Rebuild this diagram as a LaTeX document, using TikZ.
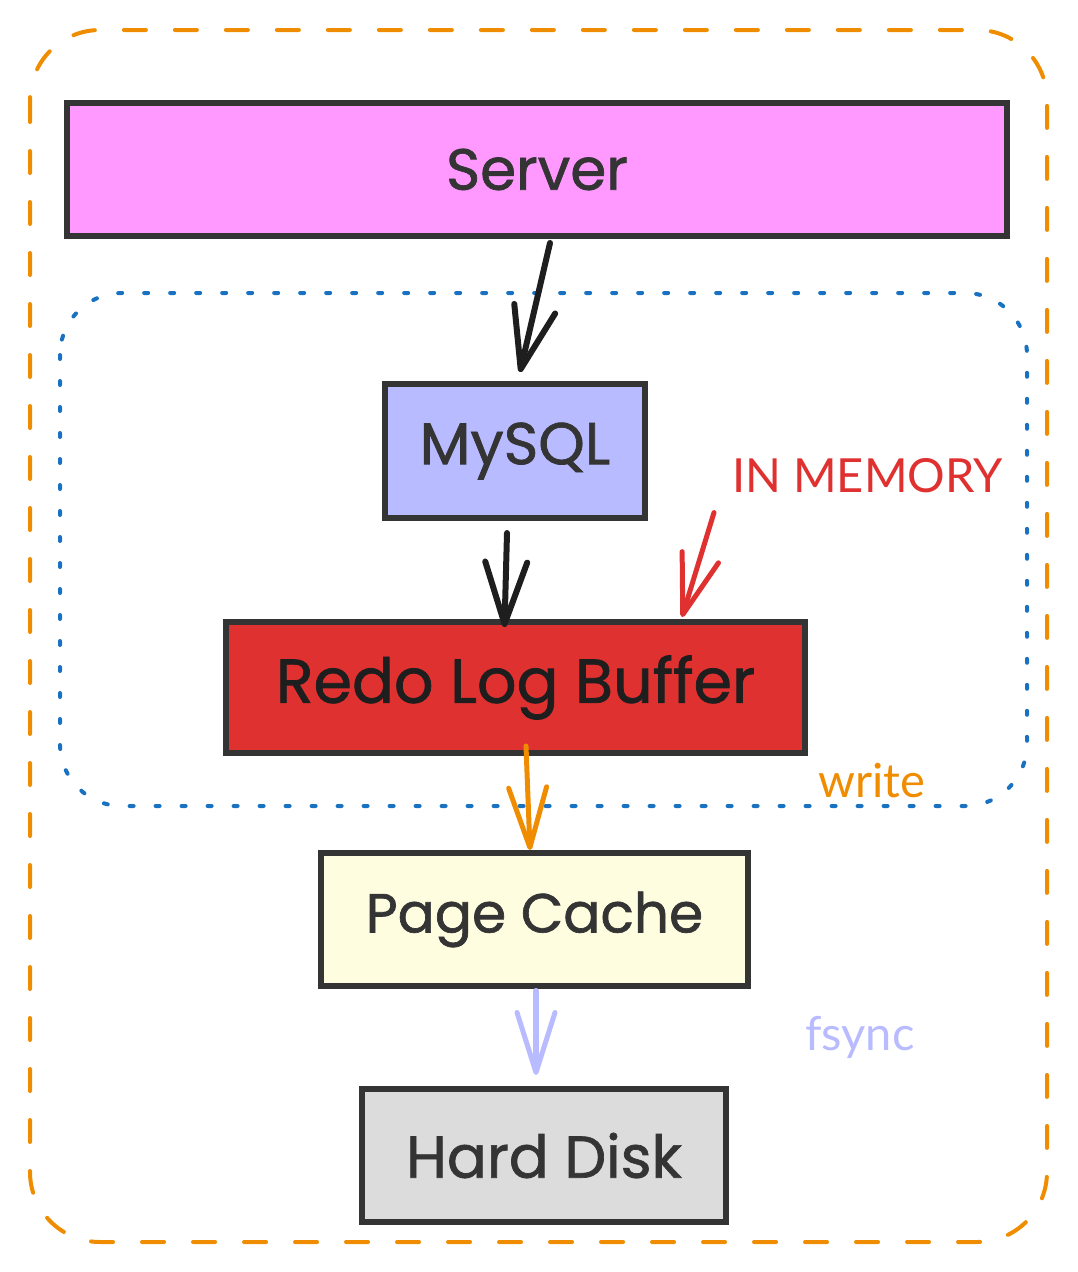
\documentclass[tikz,border=0pt]{standalone}
\usepackage{fontspec}
\setmainfont{Poppins}
\newfontfamily\boxfont{Poppins}[FakeBold=1.2]
\newfontfamily\labelfont{Lato}
\usetikzlibrary{arrows.meta,calc}
\definecolor{exorange}{HTML}{F08C00}
\definecolor{exblue}{HTML}{1971C2}
\definecolor{exred}{HTML}{E03131}
\definecolor{exlav}{HTML}{B8BBFF}
\definecolor{expink}{HTML}{FF99FF}
\definecolor{exyellow}{HTML}{FFFDE0}
\definecolor{exgrey}{HTML}{DCDCDC}
\definecolor{exstroke}{HTML}{343434}
\definecolor{exink}{HTML}{1E1E1E}
\tikzset{
  boxnode/.style={draw=exstroke, line width=6pt, inner sep=0pt, text=exstroke},
  flow/.style={line width=6pt, line cap=round, -{Straight Barb[length=62pt,width=42pt,line width=6pt,round]}},
  thinflow/.style={line width=5pt, line cap=round, -{Straight Barb[length=60pt,width=38pt,line width=5pt,round]}},
  tag/.style={font=\labelfont\fontsize{47}{54}\selectfont, inner sep=0pt, anchor=base west}
}
\begin{document}
\begin{tikzpicture}[x=1pt,y=-1pt]
\useasboundingbox (0,0) rectangle (1077,1272);
% outer dashed frame
\draw[exorange, line width=4pt, line cap=round, dash pattern=on 22pt off 29pt, rounded corners=70pt] (30,30) rectangle (1047,1242);
% in-memory dotted frame
\draw[exblue, line width=4pt, line cap=round, dash pattern=on 4pt off 22pt, rounded corners=62pt] (60,293) rectangle (1027,806);

\node[boxnode, fill=expink, minimum width=940pt, minimum height=133pt, font=\boxfont\fontsize{58}{64}\selectfont] (server) at (537,169.5) {Server};
\node[boxnode, fill=exlav, minimum width=260pt, minimum height=134pt, font=\boxfont\fontsize{59}{64}\selectfont] (mysql) at (515,451) {MySQL};
\node[boxnode, fill=exred, minimum width=579pt, minimum height=131pt, text=exink, font=\boxfont\fontsize{62}{68}\selectfont] (redo) at (515.5,687.5) {Redo Log Buffer};
\node[boxnode, fill=exyellow, minimum width=427pt, minimum height=133pt, font=\boxfont\fontsize{55}{60}\selectfont] (page) at (534.5,919.5) {Page Cache};
\node[boxnode, fill=exgrey, minimum width=364pt, minimum height=133pt, font=\boxfont\fontsize{59}{64}\selectfont] (disk) at (544,1155.5) {Hard Disk};

\node[tag, text=exred] (inmem) at (732,492) {IN MEMORY};
\node[tag, text=exorange] (write) at (818,797) {write};
\node[tag, text=exlav] (fsync) at (805,1050) {fsync};

\draw[flow, exink] ([xshift=13pt,yshift=-4pt]server.south) -- ([xshift=5pt,yshift=9pt]mysql.north);
\draw[flow, exink] ([xshift=-8pt,yshift=-12pt]mysql.south) -- ([xshift=-11pt,yshift=-8pt]redo.north);
\draw[thinflow, exred] ([xshift=-18pt,yshift=-20pt]inmem.south west) -- ([xshift=166.5pt,yshift=2pt]redo.north);
\draw[thinflow, exorange] ([xshift=10.5pt,yshift=10pt]redo.south) -- ([xshift=-4.5pt]page.north);
\draw[thinflow, exlav, line width=6pt] ([xshift=1.5pt,yshift=-2pt]page.south) -- ([xshift=-8pt,yshift=11pt]disk.north);
\end{tikzpicture}
\end{document}
